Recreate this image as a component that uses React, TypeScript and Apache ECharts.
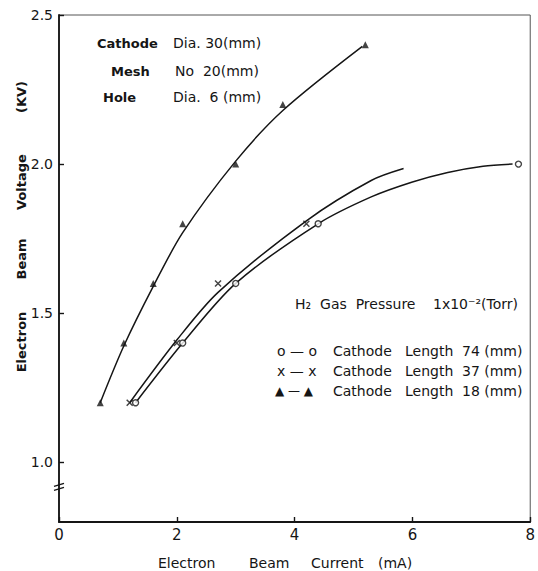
import React, { useEffect, useRef } from "react";
import * as echarts from "echarts";

// Axis ticks
const xTickValues = [0, 2, 4, 6, 8];
const yTickValues = [1.0, 1.5, 2.0, 2.5];

// Measured points (markers)
const p74X = [1.3, 2.1, 3.0, 4.4, 7.8];
const p74Y = [1.2, 1.4, 1.6, 1.8, 2.0];
const p37X = [1.2, 2.0, 2.7, 4.2];
const p37Y = [1.2, 1.4, 1.6, 1.8];
const p18X = [0.7, 1.1, 1.6, 2.1, 3.0, 3.8, 5.2];
const p18Y = [1.2, 1.4, 1.6, 1.8, 2.0, 2.2, 2.4];

// Points read along the drawn (fitted) curves
const f74X = [1.3, 2.1, 3.0, 4.4, 5.3, 6.0, 6.6, 7.2, 7.7];
const f74Y = [1.2, 1.4, 1.6, 1.8, 1.89, 1.94, 1.972, 1.993, 2.0];
const f37X = [1.2, 2.0, 2.7, 4.2, 5.3, 5.85];
const f37Y = [1.2, 1.41, 1.57, 1.81, 1.945, 1.985];
const f18X = [0.7, 1.1, 1.6, 2.1, 3.0, 3.8, 5.15];
const f18Y = [1.2, 1.39, 1.59, 1.77, 2.01, 2.18, 2.395];

const FONT = "DejaVu Sans";
const INK = "#151515";

const zip = (xs: number[], ys: number[]) => xs.map((x, i) => [x, ys[i]]);

function txt(text: string, x: number, y: number, extra: any = {}) {
  return {
    type: "text",
    x,
    y,
    style: {
      text,
      fill: INK,
      font: `14px "${FONT}"`,
      textVerticalAlign: "middle",
      ...extra,
    },
  };
}

export default function App() {
  const ref = useRef<HTMLDivElement>(null);
  useEffect(() => {
    if (!ref.current) return;
    const chart = echarts.init(ref.current, undefined, { renderer: "svg" });
    const curve = (name: string, data: number[][]) => ({
      name,
      type: "line",
      smooth: 0.3,
      symbol: "none",
      data,
      lineStyle: { color: INK, width: 1.5 },
      z: 2,
    });
    const option: any = {
      animation: false,
      backgroundColor: "#ffffff",
      grid: {
        left: 59,
        right: 2,
        top: 15,
        bottom: 49,
        show: true,
        borderColor: "#555",
        borderWidth: 1,
      },
      xAxis: {
        type: "value",
        min: 0,
        max: 8,
        interval: 2,
        axisLine: { show: true, lineStyle: { color: INK, width: 1.8 } },
        axisTick: { show: true, inside: true, length: 5, lineStyle: { color: INK, width: 1.4 } },
        axisLabel: {
          show: true,
          color: INK,
          fontFamily: FONT,
          fontSize: 15,
          margin: 5,
          customValues: xTickValues,
          formatter: (v: number) => String(v),
        },
        splitLine: { show: false },
      },
      yAxis: {
        type: "value",
        min: 0.8,
        max: 2.5,
        axisLine: { show: true, lineStyle: { color: INK, width: 1.8 } },
        axisTick: {
          show: true,
          inside: true,
          length: 5,
          customValues: yTickValues,
          lineStyle: { color: INK, width: 1.4 },
        },
        axisLabel: {
          show: true,
          color: INK,
          fontFamily: FONT,
          fontSize: 14,
          margin: 6,
          customValues: yTickValues,
          formatter: (v: number) => v.toFixed(1),
        },
        splitLine: { show: false },
      },
      series: [
        curve("curve 74", zip(f74X, f74Y)),
        curve("curve 37", zip(f37X, f37Y)),
        curve("curve 18", zip(f18X, f18Y)),
        {
          name: "Cathode Length 74(mm)",
          type: "scatter",
          data: zip(p74X, p74Y),
          symbol: "circle",
          symbolSize: 6,
          itemStyle: { color: "#ffffff", borderColor: INK, borderWidth: 1.4 },
          z: 3,
        },
        {
          name: "Cathode Length 37(mm)",
          type: "scatter",
          data: zip(p37X, p37Y),
          symbol: "path://M0,0L10,10M10,0L0,10",
          symbolSize: 6,
          itemStyle: { color: "transparent", borderColor: INK, borderWidth: 1.5 },
          z: 3,
        },
        {
          name: "Cathode Length 18(mm)",
          type: "scatter",
          data: zip(p18X, p18Y),
          symbol: "triangle",
          symbolSize: 7,
          itemStyle: { color: INK },
          z: 3,
        },
      ],
    };
    chart.setOption(option);

    const bp = chart.convertToPixel({ gridIndex: 0 } as any, [0, 0.916]) as number[];
    const graphic: any[] = [
      // break mark on the y axis
      { type: "line", shape: { x1: bp[0] - 5, y1: bp[1] - 1, x2: bp[0] + 5, y2: bp[1] - 4 }, style: { stroke: INK, lineWidth: 1.4 } },
      { type: "line", shape: { x1: bp[0] - 5, y1: bp[1] + 3, x2: bp[0] + 5, y2: bp[1] }, style: { stroke: INK, lineWidth: 1.4 } },
      // top-left annotation
      txt("Cathode", 97, 43, { font: `bold 13px "${FONT}"` }),
      txt("Dia. 30(mm)", 173, 43),
      txt("Mesh", 111, 71, { font: `bold 13px "${FONT}"` }),
      txt("No  20(mm)", 175, 71),
      txt("Hole", 103, 97, { font: `bold 13px "${FONT}"` }),
      txt("Dia.  6 (mm)", 173, 97),
      // gas pressure and key
      txt("H\u2082  Gas  Pressure", 295, 304),
      txt("1x10\u207B\u00B2(Torr)", 433, 304),
      txt("o — o", 277, 351),
      txt("Cathode", 333, 351),
      txt("Length", 405, 351),
      txt("74 (mm)", 462, 351),
      txt("x — x", 277, 371),
      txt("Cathode", 333, 371),
      txt("Length", 405, 371),
      txt("37 (mm)", 462, 371),
      txt("▲ — ▲", 275, 391, { font: `12px "${FONT}"` }),
      txt("Cathode", 333, 391),
      txt("Length", 405, 391),
      txt("18 (mm)", 462, 391),
      // x axis title
      txt("Electron", 158, 563),
      txt("Beam", 249, 563),
      txt("Current", 311, 563),
      txt("(mA)", 378, 563),
      // y axis title (rotated)
      ...[
        ["Electron", 342],
        ["Beam", 259],
        ["Voltage", 182],
        ["(KV)", 97],
      ].map(([t, y]) => ({
        type: "text",
        x: 21,
        y: y as number,
        rotation: Math.PI / 2,
        style: {
          text: t as string,
          fill: INK,
          font: `bold 13px "${FONT}"`,
          textAlign: "center",
          textVerticalAlign: "middle",
        },
      })),
    ];
    chart.setOption({ graphic });

    return () => chart.dispose();
  }, []);
  return (
    <div
      ref={ref}
      style={{ position: "fixed", left: 0, top: 0, width: 538, height: 571 }}
    />
  );
}
